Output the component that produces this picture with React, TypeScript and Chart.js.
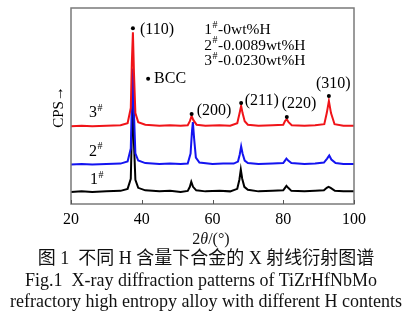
import React, { useEffect, useRef } from "react";
import { Chart, registerables } from "chart.js";
Chart.register(...registerables);

// ---- data (2θ in degrees, intensity in arbitrary CPS units, stacked with offsets) ----
const xTicks = [20, 40, 60, 80, 100];

const pattern1: [number, number][] = [
  [20, 12], [23, 12.5], [26, 12], [30, 12.5], [34, 13], [36, 15], [36.9, 25], [37.2, 70], [37.5, 107],
  [37.8, 60], [38.2, 24], [39, 16], [41, 13.5], [45, 12.5], [48, 13], [51, 12], [53, 13], [53.6, 17],
  [54.0, 22], [54.5, 17], [55.4, 13.5], [58, 12.5], [62, 13], [65, 12.5], [67, 15], [67.6, 24],
  [68.0, 34], [68.4, 25], [69.0, 17], [70, 14], [73, 12.5], [77, 13], [80, 13.5], [80.5, 16],
  [80.9, 18], [81.4, 16], [82.3, 13], [86, 12.5], [89, 13], [91.5, 13.5], [92.3, 16], [92.8, 17],
  [93.4, 16], [94.6, 13], [97, 12.5], [100, 12.5],
];

const pattern2: [number, number][] = [
  [20, 39], [23, 39.5], [26, 39], [30, 39.5], [34, 40], [36, 42], [36.9, 55], [37.2, 100], [37.5, 134],
  [37.8, 90], [38.2, 50], [39, 43], [41, 40.5], [45, 39.5], [48, 40], [51, 39.5], [53, 40], [53.8, 50],
  [54.2, 72], [54.45, 81], [54.8, 65], [55.3, 46], [56.3, 41], [60, 39.5], [63, 40], [66, 40],
  [67.2, 42], [67.7, 49], [68.1, 57], [68.5, 50], [69.1, 43], [70, 40.5], [73, 39.5], [77, 40],
  [80, 40.5], [80.5, 43], [80.9, 45], [81.4, 43], [82.3, 40.5], [86, 39.5], [89, 40], [91.5, 41],
  [92.4, 45], [93.0, 48], [93.6, 44], [94.8, 40.5], [97, 39.5], [100, 39.5],
];

const pattern3: [number, number][] = [
  [20, 77], [23, 77.5], [26, 77], [30, 77.5], [34, 78], [36, 80], [36.9, 95], [37.2, 140], [37.5, 170],
  [37.8, 130], [38.2, 90], [39, 81], [41, 78.5], [45, 77.5], [48, 78], [51, 77.5], [53, 78],
  [53.6, 82], [54.1, 87], [54.6, 83], [55.5, 78.5], [58, 77.5], [62, 78], [65, 77.5], [67, 80],
  [67.6, 89], [68.1, 97], [68.5, 90], [69.1, 82], [70, 78.5], [73, 77.5], [77, 78], [80, 78.5],
  [80.5, 82], [81.0, 84], [81.5, 81], [82.4, 78], [86, 77.5], [89, 78], [91.6, 79], [92.3, 90],
  [92.9, 102], [93.5, 90], [94.5, 79], [97, 77.5], [100, 77.5],
];

const peakNames = ["(110)", "(200)", "(211)", "(220)", "(310)"];
const peakAngles = [37.5, 54.1, 68.1, 81.0, 92.9];
const peakMarkHeights = [174, 89, 100, 86, 107];

const phaseName = "BCC";
const phaseMark: [number, number] = [41.8, 124];

const sampleLabels = ["1", "2", "3"];
const sampleLabelY = [24, 52, 90];
const sampleLabelX = 25.1;

const legendIds = ["1", "2", "3"];
const legendTexts = ["-0wt%H", "-0.0089wt%H", "-0.0230wt%H"];

const seriesColors = ["#000000", "#1414f0", "#f01419"];

const SERIF = "'Liberation Serif', 'Times New Roman', serif";

// text offsets (pixels) relative to each peak mark
const peakTextOffsets: [number, number][] = [[7, 2], [5, -3], [3.5, -2], [-5, -13], [-13, -12]];

function drawSup(ctx: CanvasRenderingContext2D, x: number, y: number, main: string, rest: string, size: number) {
  ctx.font = `${size}px ${SERIF}`;
  ctx.fillText(main, x, y);
  let w = ctx.measureText(main).width;
  ctx.font = `${Math.round(size * 0.62)}px ${SERIF}`;
  ctx.fillText("#", x + w + 0.5, y - size * 0.3);
  w += ctx.measureText("#").width + 1;
  ctx.font = `${size}px ${SERIF}`;
  if (rest) ctx.fillText(rest, x + w, y);
}

const decorPlugin = {
  id: "decor",
  afterDatasetsDraw(chart: any) {
    const { ctx, chartArea: a, scales } = chart;
    const xs = scales.x;
    const ys = scales.y;
    ctx.save();
    // frame
    ctx.strokeStyle = "#7a7a7a";
    ctx.lineWidth = 1.5;
    ctx.strokeRect(a.left, a.top, a.right - a.left, a.bottom - a.top);
    // inward ticks
    ctx.lineWidth = 1;
    ctx.strokeStyle = "#555";
    for (const t of xTicks) {
      const px = Math.round(xs.getPixelForValue(t)) + 0.5;
      ctx.beginPath();
      ctx.moveTo(px, a.bottom);
      ctx.lineTo(px, a.bottom - 4);
      ctx.stroke();
    }
    ctx.fillStyle = "#000";
    ctx.textBaseline = "middle";
    ctx.textAlign = "left";
    // peak labels
    ctx.font = `16px ${SERIF}`;
    peakNames.forEach((n, i) => {
      const px = xs.getPixelForValue(peakAngles[i]);
      const py = ys.getPixelForValue(peakMarkHeights[i]);
      const [dx, dy] = peakTextOffsets[i];
      ctx.fillText(n, px + dx, py + dy);
    });
    // BCC
    {
      const px = xs.getPixelForValue(phaseMark[0]);
      const py = ys.getPixelForValue(phaseMark[1]);
      ctx.fillText(phaseName, px + 6, py);
    }
    // sample labels
    sampleLabels.forEach((s, i) => {
      drawSup(ctx, xs.getPixelForValue(sampleLabelX) + (i === 0 ? 1 : 0), ys.getPixelForValue(sampleLabelY[i]), s, "", 16);
    });
    // legend text
    legendIds.forEach((id, i) => {
      drawSup(ctx, xs.getPixelForValue(57.7), a.top + 22 + i * 15.5, id, legendTexts[i], 15.5);
    });
    // y title
    ctx.save();
    ctx.translate(59, (a.top + a.bottom) / 2 + 1);
    ctx.rotate(-Math.PI / 2);
    ctx.textAlign = "center";
    ctx.font = `15px ${SERIF}`;
    ctx.fillText("CPS\u2192", 0, 0);
    ctx.restore();
    ctx.restore();
  },
};

export default function App() {
  const ref = useRef<HTMLCanvasElement>(null);
  useEffect(() => {
    if (!ref.current) return;
    const toPts = (arr: [number, number][]) => arr.map(([x, y]) => ({ x, y }));
    const lineStyle = (c: string) => ({
      borderColor: c,
      backgroundColor: c,
      borderWidth: 2,
      pointRadius: 0,
      tension: 0,
      fill: false,
    });
    const chart = new Chart(ref.current, {
      type: "line",
      data: {
        datasets: [
          {
            type: "scatter",
            label: "marks",
            data: [
              ...peakAngles.map((a, i) => ({ x: a, y: peakMarkHeights[i] })),
              { x: phaseMark[0], y: phaseMark[1] },
            ],
            pointRadius: 2,
            pointBackgroundColor: "#000",
            pointBorderWidth: 0,
            showLine: false,
          } as any,
          { label: "3#", data: toPts(pattern3), ...lineStyle(seriesColors[2]) },
          { label: "2#", data: toPts(pattern2), ...lineStyle(seriesColors[1]) },
          { label: "1#", data: toPts(pattern1), ...lineStyle(seriesColors[0]) },
        ],
      },
      options: {
        animation: false,
        responsive: false,
        events: [],
        layout: { padding: { left: 71, right: 58, top: 8, bottom: 4.8 } },
        plugins: { legend: { display: false }, tooltip: { enabled: false } },
        scales: {
          x: {
            type: "linear",
            min: 20,
            max: 100,
            afterBuildTicks: (s: any) => {
              s.ticks = xTicks.map((v) => ({ value: v }));
            },
            ticks: { color: "#000", padding: 6, font: { family: SERIF, size: 16 }, maxRotation: 0 },
            grid: { display: false, drawTicks: false },
            border: { display: false },
          },
          y: { type: "linear", min: 0, max: 194, display: false },
        },
      },
      plugins: [decorPlugin],
    });
    return () => chart.destroy();
  }, []);

  const cap: React.CSSProperties = {
    position: "absolute",
    left: 0,
    width: 412,
    textAlign: "center",
    fontSize: 18,
    lineHeight: "21px",
    color: "#111",
    fontFamily: `${SERIF}, 'Noto Sans CJK SC'`,
    whiteSpace: "pre",
  };
  return (
    <div style={{ position: "fixed", left: 0, top: 0, width: 412, height: 321, background: "#fff" }}>
      <canvas ref={ref} width={412} height={240} style={{ position: "absolute", left: 0, top: 0 }} />
      <div style={{ ...cap, fontSize: 16, left: 111, width: 200, top: 228 }}>
        2<i>θ</i>/(°)
      </div>
      <div style={{ ...cap, top: 247.5 }}>图 1  不同 H 含量下合金的 X 射线衍射图谱</div>
      <div style={{ ...cap, top: 269.5, left: -5 }}>Fig.1  X-ray diffraction patterns of TiZrHfNbMo</div>
      <div style={{ ...cap, top: 290.5 }}>refractory high entropy alloy with different H contents</div>
    </div>
  );
}
